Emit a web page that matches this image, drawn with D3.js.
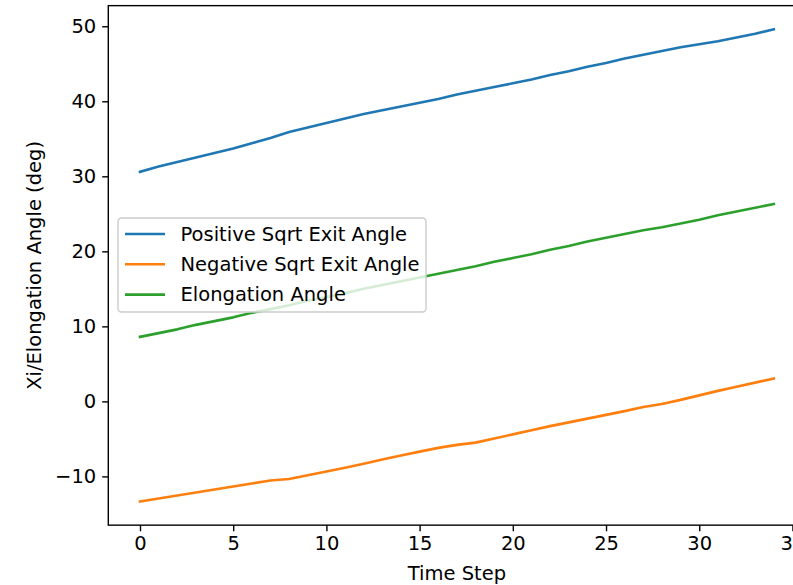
<!DOCTYPE html>
<html>
<head>
<meta charset="utf-8">
<script src="https://cdn.jsdelivr.net/npm/d3@7"></script>
<style>
  body { margin: 0; background: #fff; }
  svg { display: block; font-family: "DejaVu Sans", sans-serif; }
</style>
</head>
<body>
<div id="chart"></div>
<script>
'use strict';

// time steps 0..34
const timeSteps = d3.range(0, 35);

const positiveExit = [30.6, 31.3, 31.9, 32.5, 33.1, 33.7, 34.4, 35.1, 35.9, 36.5,
  37.1, 37.7, 38.3, 38.8, 39.3, 39.8, 40.3, 40.9, 41.4, 41.9,
  42.4, 42.9, 43.5, 44.0, 44.6, 45.1, 45.7, 46.2, 46.7, 47.2,
  47.6, 48.0, 48.5, 49.0, 49.6];

const negativeExit = [-13.35, -12.95, -12.55, -12.15, -11.75, -11.35, -10.95, -10.55, -10.35, -9.85,
  -9.35, -8.85, -8.3, -7.75, -7.2, -6.7, -6.2, -5.8, -5.5, -4.95,
  -4.4, -3.85, -3.3, -2.8, -2.3, -1.8, -1.3, -0.75, -0.35, 0.2,
  0.8, 1.4, 1.95, 2.5, 3.05];

const elongation = [8.6, 9.1, 9.6, 10.2, 10.7, 11.2, 11.8, 12.3, 12.8, 13.4,
  13.9, 14.4, 15.0, 15.5, 16.0, 16.5, 17.0, 17.5, 18.0, 18.6,
  19.1, 19.6, 20.2, 20.7, 21.3, 21.8, 22.3, 22.8, 23.2, 23.7,
  24.2, 24.8, 25.3, 25.8, 26.3];

const seriesNames = ["Positive Sqrt Exit Angle", "Negative Sqrt Exit Angle", "Elongation Angle"];
const seriesColors = ["#1f77b4", "#ff7f0e", "#2ca02c"];
const xTicks = [0, 5, 10, 15, 20, 25, 30, 35];
const yTicks = [-10, 0, 10, 20, 30, 40, 50];

const series = [positiveExit, negativeExit, elongation];

// dimensions (axes box runs past the right edge, like the reference)
const W = 793, H = 585;
const margin = {top: 5.65, left: 108.3};
const width = 697.2, height = 519.5;
const fontSize = 19.5;

const svg = d3.select("#chart")
  .append("svg")
    .attr("width", W)
    .attr("height", H);

const g = svg.append("g")
  .attr("transform", "translate(" + margin.left + "," + margin.top + ")");

// matplotlib style 5% margins
const xMin = 0, xMax = 34;
const allY = series.flat();
const yLo = d3.min(allY), yHi = d3.max(allY);
const xPad = (xMax - xMin) * 0.05, yPad = (yHi - yLo) * 0.05;

const x = d3.scaleLinear()
  .domain([xMin - xPad, xMax + xPad])
  .range([0, width]);

const y = d3.scaleLinear()
  .domain([yLo - yPad, yHi + yPad])
  .range([height, 0]);

// lines
const line = d3.line()
  .x((d, i) => x(timeSteps[i]))
  .y(d => y(d));

series.forEach(function(s, i) {
  g.append("path")
    .datum(s)
    .attr("fill", "none")
    .attr("stroke", seriesColors[i])
    .attr("stroke-width", 2.6)
    .attr("stroke-linejoin", "round")
    .attr("stroke-linecap", "square")
    .attr("d", line);
});

// axes
const xAxis = g.append("g")
  .attr("transform", "translate(0," + height + ")")
  .call(d3.axisBottom(x).tickValues(xTicks).tickSize(6.1).tickPadding(5).tickSizeOuter(0));

const yAxis = g.append("g")
  .call(d3.axisLeft(y).tickValues(yTicks).tickSize(6.1).tickPadding(6).tickSizeOuter(0)
    .tickFormat(d3.format("d")));

[xAxis, yAxis].forEach(function(a) {
  a.select(".domain").remove();
  a.selectAll(".tick line").attr("stroke", "#000").attr("stroke-width", 1.4);
  a.selectAll(".tick text")
    .attr("fill", "#000")
    .style("font-size", fontSize + "px")
    .style("font-family", "DejaVu Sans, sans-serif");
});

// spines
g.append("rect")
  .attr("x", 0).attr("y", 0)
  .attr("width", width).attr("height", height)
  .attr("fill", "none")
  .attr("stroke", "#000")
  .attr("stroke-width", 1.4);

// axis labels
g.append("text")
  .attr("x", width / 2)
  .attr("y", height + 55)
  .attr("text-anchor", "middle")
  .style("font-size", fontSize + "px")
  .text("Time Step");

g.append("text")
  .attr("transform", "translate(" + (-67) + "," + (height / 2) + ") rotate(-90)")
  .attr("text-anchor", "middle")
  .style("font-size", fontSize + "px")
  .text("Xi/Elongation Angle (deg)");

// legend
const legend = svg.append("g")
  .attr("transform", "translate(118,218)");

legend.append("rect")
  .attr("width", 308)
  .attr("height", 94)
  .attr("rx", 3.5)
  .attr("fill", "#fff")
  .attr("fill-opacity", 0.8)
  .attr("stroke", "#cccccc")
  .attr("stroke-width", 1.4);

seriesNames.forEach(function(name, i) {
  const row = legend.append("g")
    .attr("transform", "translate(0," + (16 + i * 30.3) + ")");
  row.append("line")
    .attr("x1", 7).attr("x2", 47)
    .attr("stroke", seriesColors[i])
    .attr("stroke-width", 2.6);
  row.append("text")
    .attr("x", 62.5)
    .attr("dy", "0.35em")
    .style("font-size", fontSize + "px")
    .text(name);
});
</script>
</body>
</html>
